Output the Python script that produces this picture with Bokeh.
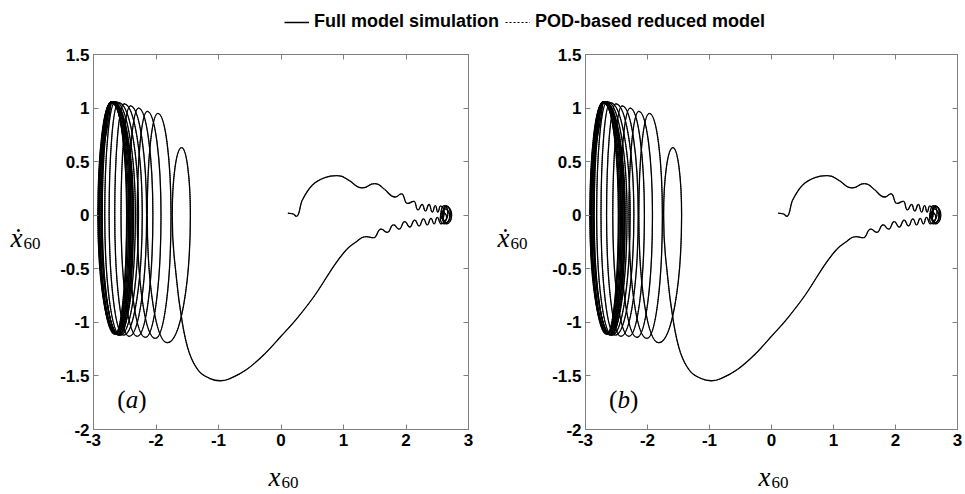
import numpy as np
from bokeh.plotting import figure
from bokeh.models import Range1d, LinearAxis, FixedTicker, Label, Legend, LegendItem
from bokeh.layouts import column, row
from bokeh.embed import file_html
from bokeh.resources import INLINE

# ---------------- data ----------------
x_ticks = [-3, -2, -1, 0, 1, 2, 3]
y_ticks = [-2, -1.5, -1, -0.5, 0, 0.5, 1, 1.5]
x_tick_labels = ["-3", "-2", "-1", "0", "1", "2", "3"]
y_tick_labels = ["-2", "-1.5", "-1", "-0.5", "0", "0.5", "1", "1.5"]

series_names = ["Full model simulation", "POD-based reduced model"]
panel_tags = ["a", "b"]

# trajectory (x60, dx60/dt) in time order: start, upper branch of right well
right_up_x = [0.11, 0.20, 0.25, 0.34, 0.50, 0.70, 0.90, 1.10, 1.30, 1.50, 1.66, 1.83, 1.93,
              2.02, 2.13, 2.19, 2.26, 2.31, 2.37, 2.42, 2.47, 2.51, 2.55]
right_up_y = [0.02, 0.01, -0.01, 0.14, 0.28, 0.35, 0.37, 0.32, 0.255, 0.295, 0.24, 0.17, 0.20,
              0.11, 0.13, 0.05, 0.10, 0.04, 0.10, 0.03, 0.09, 0.03, 0.085]
# turning region near x60 = 2.7
turn_x = [2.61, 2.58, 2.56, 2.61, 2.67, 2.62, 2.59, 2.64, 2.71, 2.64, 2.59, 2.65, 2.73, 2.65,
          2.58, 2.62, 2.70, 2.61, 2.55, 2.58, 2.65, 2.56]
turn_y = [0.03, -0.03, 0.01, 0.09, 0.02, -0.05, 0.00, 0.09, 0.01, -0.07, -0.01, 0.08, 0.00, -0.08,
          -0.02, 0.06, -0.01, -0.08, -0.03, 0.03, -0.02, -0.08]
# lower branch back to the left and the big swing
right_low_x = [2.50, 2.45, 2.40, 2.34, 2.28, 2.21, 2.14, 2.06, 1.98, 1.89, 1.80, 1.70, 1.60,
               1.48, 1.36, 1.20, 1.05, 0.85, 0.55, 0.26, 0.00, -0.27, -0.55, -0.80, -0.97,
               -1.15, -1.32, -1.47, -1.58, -1.68]
right_low_y = [-0.02, -0.08, -0.03, -0.09, -0.035, -0.10, -0.045, -0.11, -0.06, -0.13, -0.09,
               -0.16, -0.13, -0.21, -0.20, -0.25, -0.32, -0.47, -0.74, -0.96, -1.13, -1.30,
               -1.44, -1.52, -1.545, -1.52, -1.45, -1.28, -1.00, -0.55]
# loops in the left well: left, top, right, bottom extremes
left_x = [-1.74, -1.59, -1.45, -1.82, -2.14, -1.97, -1.76, -2.01, -2.30, -2.14, -1.92, -2.17,
          -2.44, -2.28, -2.05, -2.30, -2.56, -2.41, -2.15, -2.43, -2.66, -2.51, -2.22, -2.52,
          -2.75, -2.60, -2.28, -2.57, -2.82, -2.65, -2.33, -2.60, -2.87, -2.69, -2.37, -2.62,
          -2.90, -2.71, -2.40, -2.63, -2.92, -2.72, -2.42, -2.64, -2.93, -2.72, -2.44, -2.64,
          -2.92, -2.71, -2.46, -2.65, -2.90, -2.70, -2.47, -2.66, -2.91, -2.71, -2.38, -2.60,
          -2.86, -2.68, -2.36, -2.58, -2.88, -2.70, -2.40, -2.62, -2.92, -2.72]
left_y = [0, 0.63, 0, -1.19, 0, 0.95, 0, -1.15, 0, 0.97, 0, -1.14,
          0, 1.00, 0, -1.13, 0, 1.02, 0, -1.13, 0, 1.04, 0, -1.12,
          0, 1.05, 0, -1.12, 0, 1.06, 0, -1.11, 0, 1.06, 0, -1.11,
          0, 1.06, 0, -1.10, 0, 1.05, 0, -1.10, 0, 1.05, 0, -1.10,
          0, 1.06, 0, -1.11, 0, 1.06, 0, -1.11, 0, 1.06, 0, -1.12,
          0, 1.06, 0, -1.12, 0, 1.06, 0, -1.11, 0, 1.05]

full_x = right_up_x + turn_x + right_low_x + left_x
full_y = right_up_y + turn_y + right_low_y + left_y
# the reduced-model curve cannot be told apart from the full model in the picture
pod_x = list(full_x)
pod_y = list(full_y)


def smooth_segments(xs, ys, k=0.55):
    """Cubic Bezier pieces through the read points (horizontal tangent at
    velocity extrema, vertical tangent at displacement extrema)."""
    xs = np.asarray(xs, float)
    ys = np.asarray(ys, float)
    n = len(xs)
    kinds = []
    tx = np.zeros(n)
    ty = np.zeros(n)
    for i in range(n):
        if 0 < i < n - 1:
            dy0, dy1 = ys[i] - ys[i - 1], ys[i + 1] - ys[i]
            dx0, dx1 = xs[i] - xs[i - 1], xs[i + 1] - xs[i]
            if dy0 * dy1 < 0:
                kinds.append("h")
            elif dx0 * dx1 < 0:
                kinds.append("v")
            else:
                kinds.append("g")
            tx[i] = (xs[i + 1] - xs[i - 1]) / 2
            ty[i] = (ys[i + 1] - ys[i - 1]) / 2
        else:
            kinds.append("g")
            j0, j1 = (0, 1) if i == 0 else (n - 2, n - 1)
            tx[i] = xs[j1] - xs[j0]
            ty[i] = ys[j1] - ys[j0]
    seg = {k_: [] for k_ in ["x0", "y0", "x1", "y1", "cx0", "cy0", "cx1", "cy1"]}
    for i in range(n - 1):
        dx, dy = xs[i + 1] - xs[i], ys[i + 1] - ys[i]
        if kinds[i] == "h":
            c0 = (xs[i] + k * dx, ys[i])
        elif kinds[i] == "v":
            c0 = (xs[i], ys[i] + k * dy)
        else:
            c0 = (xs[i] + tx[i] / 3, ys[i] + ty[i] / 3)
        j = i + 1
        if kinds[j] == "h":
            c1 = (xs[j] - k * dx, ys[j])
        elif kinds[j] == "v":
            c1 = (xs[j], ys[j] - k * dy)
        else:
            c1 = (xs[j] - tx[j] / 3, ys[j] - ty[j] / 3)
        seg["x0"].append(xs[i]); seg["y0"].append(ys[i])
        seg["x1"].append(xs[j]); seg["y1"].append(ys[j])
        seg["cx0"].append(c0[0]); seg["cy0"].append(c0[1])
        seg["cx1"].append(c1[0]); seg["cy1"].append(c1[1])
    return seg


AXIS_GRAY = "#7f7f7f"
TICK_FONT = "Liberation Sans"
SERIF = "Liberation Serif"
PANEL_H = 415


def make_panel(width, left_b, right_b, tag):
    p = figure(width=width, height=PANEL_H, x_range=Range1d(-3, 3), y_range=Range1d(-2, 1.5),
               toolbar_location=None, output_backend="svg", title=None,
               min_border_left=left_b, min_border_right=right_b,
               min_border_top=14, min_border_bottom=26)
    p.grid.visible = False
    p.outline_line_color = AXIS_GRAY
    p.outline_line_width = 1

    def style(ax, ticks, labels, show):
        ax.ticker = FixedTicker(ticks=ticks)
        ax.major_label_overrides = {t: (l if show else "") for t, l in zip(ticks, labels)}
        ax.major_tick_in = 5
        ax.major_tick_out = 0
        ax.minor_tick_line_color = None
        ax.axis_line_color = AXIS_GRAY
        ax.major_tick_line_color = AXIS_GRAY
        ax.major_label_text_font = TICK_FONT
        ax.major_label_text_font_style = "bold"
        ax.major_label_text_font_size = "17px"
        ax.major_label_text_color = "black"
        ax.major_label_standoff = 4 if show else 0

    style(p.xaxis[0], x_ticks, x_tick_labels, True)
    style(p.yaxis[0], y_ticks, y_tick_labels, True)
    top = LinearAxis()
    style(top, x_ticks, x_tick_labels, False)
    p.add_layout(top, "above")
    right = LinearAxis()
    style(right, y_ticks, y_tick_labels, False)
    p.add_layout(right, "right")

    s_full = smooth_segments(full_x, full_y)
    s_pod = smooth_segments(pod_x, pod_y)
    p.bezier(source=s_full, x0="x0", y0="y0", x1="x1", y1="y1", cx0="cx0", cy0="cy0",
             cx1="cx1", cy1="cy1", line_color="black", line_width=1.3)
    p.bezier(source=s_pod, x0="x0", y0="y0", x1="x1", y1="y1", cx0="cx0", cy0="cy0",
             cx1="cx1", cy1="cy1", line_color="black", line_width=1.0, line_dash="1 1")

    # panel tag "(a)" / "(b)"
    ty_ = -1.72
    p.add_layout(Label(x=-2.62, y=ty_, text="(", text_font=SERIF, text_font_size="25px",
                       text_baseline="alphabetic", text_color="black"))
    p.add_layout(Label(x=-2.62, y=ty_, x_offset=8.5, text=tag, text_font=SERIF,
                       text_font_style="italic", text_font_size="25px",
                       text_baseline="alphabetic", text_color="black"))
    p.add_layout(Label(x=-2.62, y=ty_, x_offset=21, text=")", text_font=SERIF,
                       text_font_size="25px", text_baseline="alphabetic", text_color="black"))
    return p


def strip(width, height):
    s = figure(width=width, height=height, x_range=Range1d(0, width), y_range=Range1d(0, height),
               toolbar_location=None, output_backend="svg", min_border=0, title=None)
    s.axis.visible = False
    s.grid.visible = False
    s.outline_line_color = None
    return s


def sym_label(fig, x, y, main):
    fig.add_layout(Label(x=x, y=y, text=main, text_font=SERIF, text_font_style="italic",
                         text_font_size="27px", text_baseline="alphabetic", text_color="black"))
    fig.add_layout(Label(x=x, y=y, x_offset=13, y_offset=-6, text="60", text_font=SERIF,
                         text_font_size="17px", text_baseline="alphabetic", text_color="black"))


pa = make_panel(435, 48, 12, panel_tags[0])
pb = make_panel(435, 55, 8, panel_tags[1])

# y-axis titles (left of each panel)
ya = strip(45, PANEL_H)
sym_label(ya, 10, 212, "ẋ")
yb = strip(50, PANEL_H)
sym_label(yb, 17, 212, "ẋ")

# x-axis titles (below the panels)
xl = strip(965, 39)
sym_label(xl, 268, 18, "x")
sym_label(xl, 758, 18, "x")

# legend strip
leg = figure(width=965, height=40, toolbar_location=None, output_backend="svg", title=None,
             x_range=Range1d(0, 1), y_range=Range1d(0, 1), min_border=0)
leg.axis.visible = False
leg.grid.visible = False
leg.outline_line_color = None
r_full = leg.line(x=[-2, -1], y=[-2, -2], line_color="black", line_width=1.5)
r_pod = leg.line(x=[-2, -1], y=[-2, -2], line_color="black", line_width=1.0, line_dash="2 2")
legend = Legend(items=[LegendItem(label=series_names[0], renderers=[r_full]),
                       LegendItem(label=series_names[1], renderers=[r_pod])],
                orientation="horizontal", location=(284, 8), glyph_width=25, glyph_height=18,
                label_standoff=5, spacing=6, padding=0, margin=0, border_line_color=None,
                background_fill_alpha=0, label_text_font=TICK_FONT,
                label_text_font_style="bold", label_text_font_size="18px",
                label_text_color="black")
leg.add_layout(legend)

layout = column(leg, row(ya, pa, yb, pb), xl)
open("out.html", "w").write(file_html(layout, INLINE))
